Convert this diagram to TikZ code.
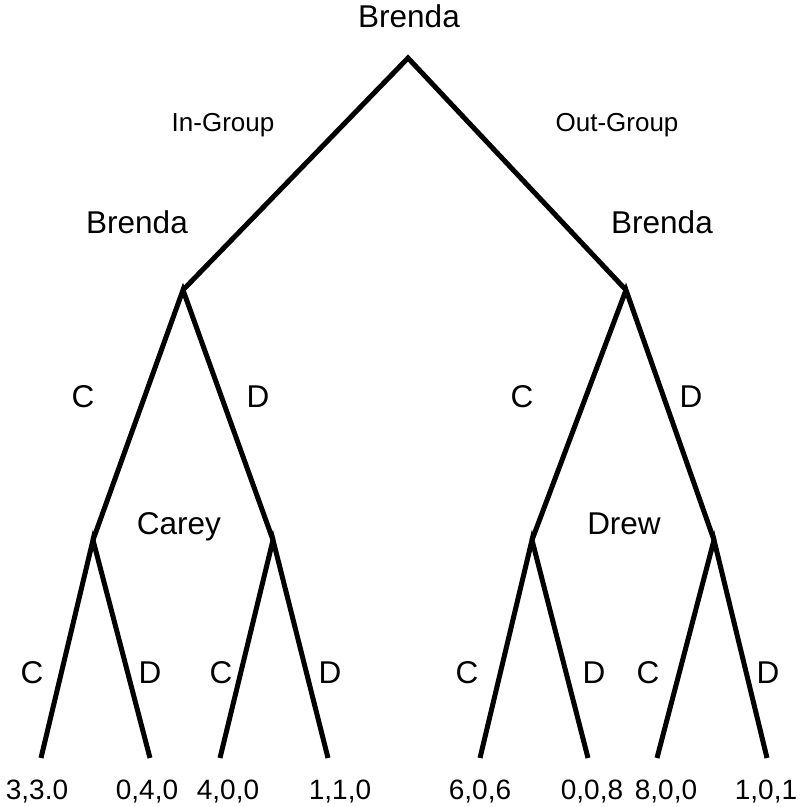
\documentclass[tikz,border=0pt]{standalone}
\usepackage{fontspec}
\setmainfont{Liberation Sans}
\begin{document}
\begin{tikzpicture}[x=1pt,y=-1pt,
  edge/.style={line width=5pt, line join=miter},
  lbl/.style={anchor=base, inner sep=0pt, font=\fontsize{31.5}{34}\selectfont},
  pay/.style={anchor=base, inner sep=0pt, font=\fontsize{28}{32}\selectfont},
  grp/.style={anchor=base, inner sep=0pt, font=\fontsize{26}{30}\selectfont}]
\useasboundingbox (0,0) rectangle (800,807);
% decision points
\coordinate (root) at (408,58);
\coordinate (in) at (183,290);
\coordinate (out) at (626,290);
\coordinate (inC) at (93,540);
\coordinate (inD) at (273,540);
\coordinate (outC) at (532,540);
\coordinate (outD) at (714,540);
% terminal points
\coordinate (t1) at (41,758);
\coordinate (t2) at (150,758);
\coordinate (t3) at (220,758);
\coordinate (t4) at (328,758);
\coordinate (t5) at (480,758);
\coordinate (t6) at (588,758);
\coordinate (t7) at (657,758);
\coordinate (t8) at (767,758);
% branches
\draw[edge] (in) -- (root) -- (out);
\draw[edge] (inC) -- (in) -- (inD);
\draw[edge] (outC) -- (out) -- (outD);
\draw[edge] (t1) -- (inC) -- (t2);
\draw[edge] (t3) -- (inD) -- (t4);
\draw[edge] (t5) -- (outC) -- (t6);
\draw[edge] (t7) -- (outD) -- (t8);
% players
\node[lbl] (pRoot) at (409,27) {Brenda};
\node[lbl] (pIn) at (137,233) {Brenda};
\node[lbl] (pOut) at (662,233) {Brenda};
\node[lbl] (pCarey) at (179,534) {Carey};
\node[lbl] (pDrew) at (624,534) {Drew};
% group choice
\node[grp] (gIn) at (223,131) {In-Group};
\node[grp] (gOut) at (617,131) {Out-Group};
% moves
\node[lbl] (m1) at (83,407) {C};
\node[lbl] (m2) at (258,407) {D};
\node[lbl] (m3) at (522,407) {C};
\node[lbl] (m4) at (691,407) {D};
\node[lbl] (m5) at (32,683) {C};
\node[lbl] (m6) at (150,683) {D};
\node[lbl] (m7) at (221,683) {C};
\node[lbl] (m8) at (330,683) {D};
\node[lbl] (m9) at (467,683) {C};
\node[lbl] (m10) at (594,683) {D};
\node[lbl] (m11) at (648,683) {C};
\node[lbl] (m12) at (768,683) {D};
% payoffs
\node[pay] (u1) at (37,799) {3,3.0};
\node[pay] (u2) at (147,799) {0,4,0};
\node[pay] (u3) at (228,799) {4,0,0};
\node[pay] (u4) at (340,799) {1,1,0};
\node[pay] (u5) at (480,799) {6,0,6};
\node[pay] (u6) at (592,799) {0,0,8};
\node[pay] (u7) at (666,799) {8,0,0};
\node[pay] (u8) at (766,799) {1,0,1};
\end{tikzpicture}
\end{document}
